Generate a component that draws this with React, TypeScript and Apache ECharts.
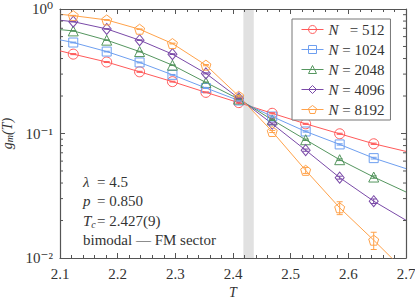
import React, { useEffect, useRef } from "react";
import * as echarts from "echarts";

// Temperatures of the measured points
const TEMPS = [2.123, 2.181, 2.238, 2.295, 2.353, 2.41, 2.468, 2.526, 2.585, 2.644];
// Ends of the drawn curves
const T_MIN = 2.1;
const T_MAX = 2.7;

const SIZES = ["512", "1024", "2048", "4096", "8192"];

const G_512 = [0.434, 0.375, 0.313, 0.261, 0.214, 0.177, 0.1453, 0.1196, 0.0995, 0.0827];
const G_1024 = [0.538, 0.455, 0.372, 0.296, 0.232, 0.184, 0.1368, 0.1038, 0.0817, 0.0634];
const G_2048 = [0.667, 0.562, 0.455, 0.354, 0.257, 0.189, 0.1287, 0.0891, 0.0616, 0.0447];
const G_4096 = [0.791, 0.692, 0.562, 0.434, 0.304, 0.192, 0.1196, 0.0735, 0.0442, 0.0286];
const G_8192 = [0.884, 0.817, 0.688, 0.528, 0.354, 0.1995, 0.1038, 0.0506, 0.0253, 0.0139];

const ERR_512 = [0.004, 0.003, 0.003, 0.002, 0.002, 0.002, 0.0015, 0.0012, 0.001, 0.001];
const ERR_1024 = [0.004, 0.003, 0.003, 0.002, 0.002, 0.002, 0.0015, 0.0012, 0.001, 0.001];
const ERR_2048 = [0.004, 0.003, 0.003, 0.002, 0.002, 0.002, 0.0015, 0.0012, 0.001, 0.001];
const ERR_4096 = [0.004, 0.003, 0.003, 0.003, 0.003, 0.002, 0.002, 0.0015, 0.0012, 0.0012];
const ERR_8192 = [0.005, 0.005, 0.004, 0.004, 0.004, 0.003, 0.002, 0.0028, 0.003, 0.0022];

// Curve values at T_MIN and T_MAX
const LEFT_END = [0.461, 0.565, 0.683, 0.812, 0.907];
const RIGHT_END = [0.0718, 0.0522, 0.0339, 0.0201, 0.0077];

// Critical temperature band
const TC_BAND = [2.418, 2.436];

const Y_MINOR = [2, 3, 4, 5, 6, 7, 8, 9].flatMap((m) => [m * 0.01, m * 0.1]);

const ANNOT_LABELS = ["{i|λ}", "{i|p}", "{i|T}{s|c}"];
const ANNOT_VALUES = ["= 4.5", "= 0.850", "= 2.427(9)"];
const ANNOT_NOTE = "bimodal — FM sector";

const COLORS = ["#ff5a5a", "#6e9ff0", "#55965f", "#7a4aa8", "#ffa24a"];
const SYMBOLS = [
  "circle",
  "rect",
  "triangle",
  "diamond",
  "path://M0,-1 L0.951,-0.309 L0.588,0.809 L-0.588,0.809 L-0.951,-0.309 Z",
];
const SYMBOL_SIZES = [10, 9, 10, [9, 11], 10];

const FONT = "'Liberation Serif', 'DejaVu Serif', serif";
const TXT = "#333";

export default function App() {
  const ref = useRef<HTMLDivElement>(null);
  useEffect(() => {
    if (!ref.current) return;
    const chart = echarts.init(ref.current, null, { renderer: "svg" });
    const gs = [G_512, G_1024, G_2048, G_4096, G_8192];
    const es = [ERR_512, ERR_1024, ERR_2048, ERR_4096, ERR_8192];
    const names = SIZES.map((s) => (s.length < 4 ? `N\u2007\u00a0= ${s}` : `N = ${s}`));

    const series: any[] = [];
    series.push({
      type: "custom",
      z: 0,
      silent: true,
      data: [TC_BAND],
      renderItem: (params: any, api: any) => {
        const cs = params.coordSys;
        const a = api.coord([api.value(0), 0.1])[0];
        const b = api.coord([api.value(1), 0.1])[0];
        return {
          type: "rect",
          shape: { x: a, y: cs.y, width: b - a, height: cs.height },
          style: { fill: "#e1e1e1" },
        };
      },
    });
    series.push({
      type: "custom",
      z: 5,
      silent: true,
      data: Y_MINOR.map((v) => [v]),
      renderItem: (params: any, api: any) => {
        const cs = params.coordSys;
        const y = api.coord([2.4, api.value(0)])[1];
        const st = { stroke: "#555", lineWidth: 1 };
        return {
          type: "group",
          children: [
            { type: "line", shape: { x1: cs.x, y1: y, x2: cs.x + 3, y2: y }, style: st },
            { type: "line", shape: { x1: cs.x + cs.width, y1: y, x2: cs.x + cs.width - 3, y2: y }, style: st },
          ],
        };
      },
    });
    gs.forEach((g, k) => {
      const c = COLORS[k];
      const data: any[] = [];
      data.push({ value: [T_MIN, LEFT_END[k]], symbol: "none" });
      TEMPS.forEach((t, i) => data.push([t, g[i]]));
      data.push({ value: [T_MAX, RIGHT_END[k]], symbol: "none" });
      series.push({
        name: names[k],
        type: "line",
        z: 3,
        data,
        symbol: SYMBOLS[k],
        symbolSize: SYMBOL_SIZES[k],
        showAllSymbol: true,
        clip: true,
        lineStyle: { color: c, width: 1 },
        itemStyle: { color: "rgba(255,255,255,0)", borderColor: c, borderWidth: 1 },
        emphasis: { disabled: true },
      });
      series.push({
        type: "custom",
        z: 4,
        silent: true,
        data: TEMPS.map((t, i) => [t, g[i], es[k][i]]),
        renderItem: (params: any, api: any) => {
          const x = api.value(0);
          const v = api.value(1);
          const e = api.value(2);
          const p1 = api.coord([x, v + e]);
          const p2 = api.coord([x, v - e]);
          const st = { stroke: c, lineWidth: 1 };
          return {
            type: "group",
            children: [
              { type: "line", shape: { x1: p1[0], y1: p1[1], x2: p2[0], y2: p2[1] }, style: st },
              { type: "line", shape: { x1: p1[0] - 3, y1: p1[1], x2: p1[0] + 3, y2: p1[1] }, style: st },
              { type: "line", shape: { x1: p2[0] - 3, y1: p2[1], x2: p2[0] + 3, y2: p2[1] }, style: st },
            ],
          };
        },
      });
    });

    const axisLine = { show: true, lineStyle: { color: "#555", width: 1.2 } };
    const xCommon = {
      type: "value",
      min: 2.1,
      max: 2.7,
      interval: 0.1,
      axisLine,
      axisTick: { show: true, inside: true, length: 5, lineStyle: { color: "#555" } },
      minorTick: { show: true, splitNumber: 5, length: 3, lineStyle: { color: "#555" } },
      splitLine: { show: false },
    };
    const yCommon = {
      type: "log",
      logBase: 10,
      min: 0.01,
      max: 1,
      interval: 1,
      axisLine,
      axisTick: { show: true, inside: true, length: 5, lineStyle: { color: "#555" } },
      splitLine: { show: false },
    };
    const supMap: Record<string, string> = { "0": "10⁰", "-1": "10⁻¹", "-2": "10⁻²" };

    const rich = {
      i: { fontFamily: FONT, fontStyle: "italic", fontSize: 15, fill: TXT },
      s: { fontFamily: FONT, fontStyle: "italic", fontSize: 10, fill: TXT, padding: [7, 0, 0, 0] },
    };
    const rowTop = (i: number) => 174 + i * 19.6;
    const graphics: any[] = [];
    ANNOT_LABELS.forEach((lab, i) => {
      graphics.push({
        type: "text",
        left: 83,
        top: rowTop(i),
        z: 10,
        style: { text: lab, fontFamily: FONT, fontSize: 15, fill: TXT, rich },
      });
      graphics.push({
        type: "text",
        left: 97,
        top: rowTop(i),
        z: 10,
        style: { text: ANNOT_VALUES[i], fontFamily: FONT, fontSize: 15, fill: TXT },
      });
    });
    graphics.push({
      type: "text",
      left: 83,
      top: rowTop(3),
      z: 10,
      style: { text: ANNOT_NOTE, fontFamily: FONT, fontSize: 15, fill: TXT },
    });

    chart.setOption({
      animation: false,
      backgroundColor: "#fff",
      grid: { left: 60, right: 9, top: 9, bottom: 41, containLabel: false, outerBoundsMode: "none" },
      xAxis: [
        {
          ...xCommon,
          position: "bottom",
          name: "T",
          nameLocation: "middle",
          nameGap: 25,
          nameTextStyle: { fontFamily: FONT, fontStyle: "italic", fontSize: 14, lineHeight: 14, color: TXT },
          axisLabel: {
            fontFamily: FONT,
            fontSize: 15,
            color: TXT,
            margin: 8,
            formatter: (v: number) => v.toFixed(1),
          },
        },
        { ...xCommon, position: "top", axisLabel: { show: false } },
      ],
      yAxis: [
        {
          ...yCommon,
          position: "left",
          name: "{i|g}{s|m}{i|(T)}",
          nameLocation: "middle",
          nameRotate: 90,
          nameGap: 43,
          nameTextStyle: {
            fontFamily: FONT,
            fontSize: 14,
            color: TXT,
            rich: {
              i: { fontFamily: FONT, fontStyle: "italic", fontSize: 14, color: TXT },
              s: { fontFamily: FONT, fontStyle: "italic", fontSize: 10, color: TXT, padding: [5, 0, 0, 0] },
            },
          },
          axisLabel: {
            fontFamily: FONT,
            fontSize: 15,
            color: TXT,
            margin: 7,
            formatter: (v: number) => supMap[String(Math.round(Math.log10(v)))] ?? "",
          },
        },
        { ...yCommon, position: "right", axisLabel: { show: false } },
      ],
      legend: {
        data: names,
        orient: "vertical",
        left: 292,
        top: 19,
        itemWidth: 22,
        itemHeight: 10,
        itemGap: 5,
        padding: [3, 6, 3, 9],
        backgroundColor: "#fff",
        borderColor: "#777",
        borderWidth: 1,
        borderRadius: 0,
        selectedMode: false,
        itemStyle: { borderWidth: 1 },
        lineStyle: { width: 1 },
        textStyle: {
          fontFamily: FONT,
          fontSize: 15,
          color: TXT,
          rich: { i: { fontFamily: FONT, fontStyle: "italic", fontSize: 15, color: TXT } },
        },
        formatter: (n: string) => `{i|N}${n.slice(1)}`,
      },
      graphic: graphics,
      series,
    });
    return () => chart.dispose();
  }, []);
  return <div ref={ref} style={{ position: "fixed", left: 0, top: 0, width: 415, height: 299 }} />;
}
